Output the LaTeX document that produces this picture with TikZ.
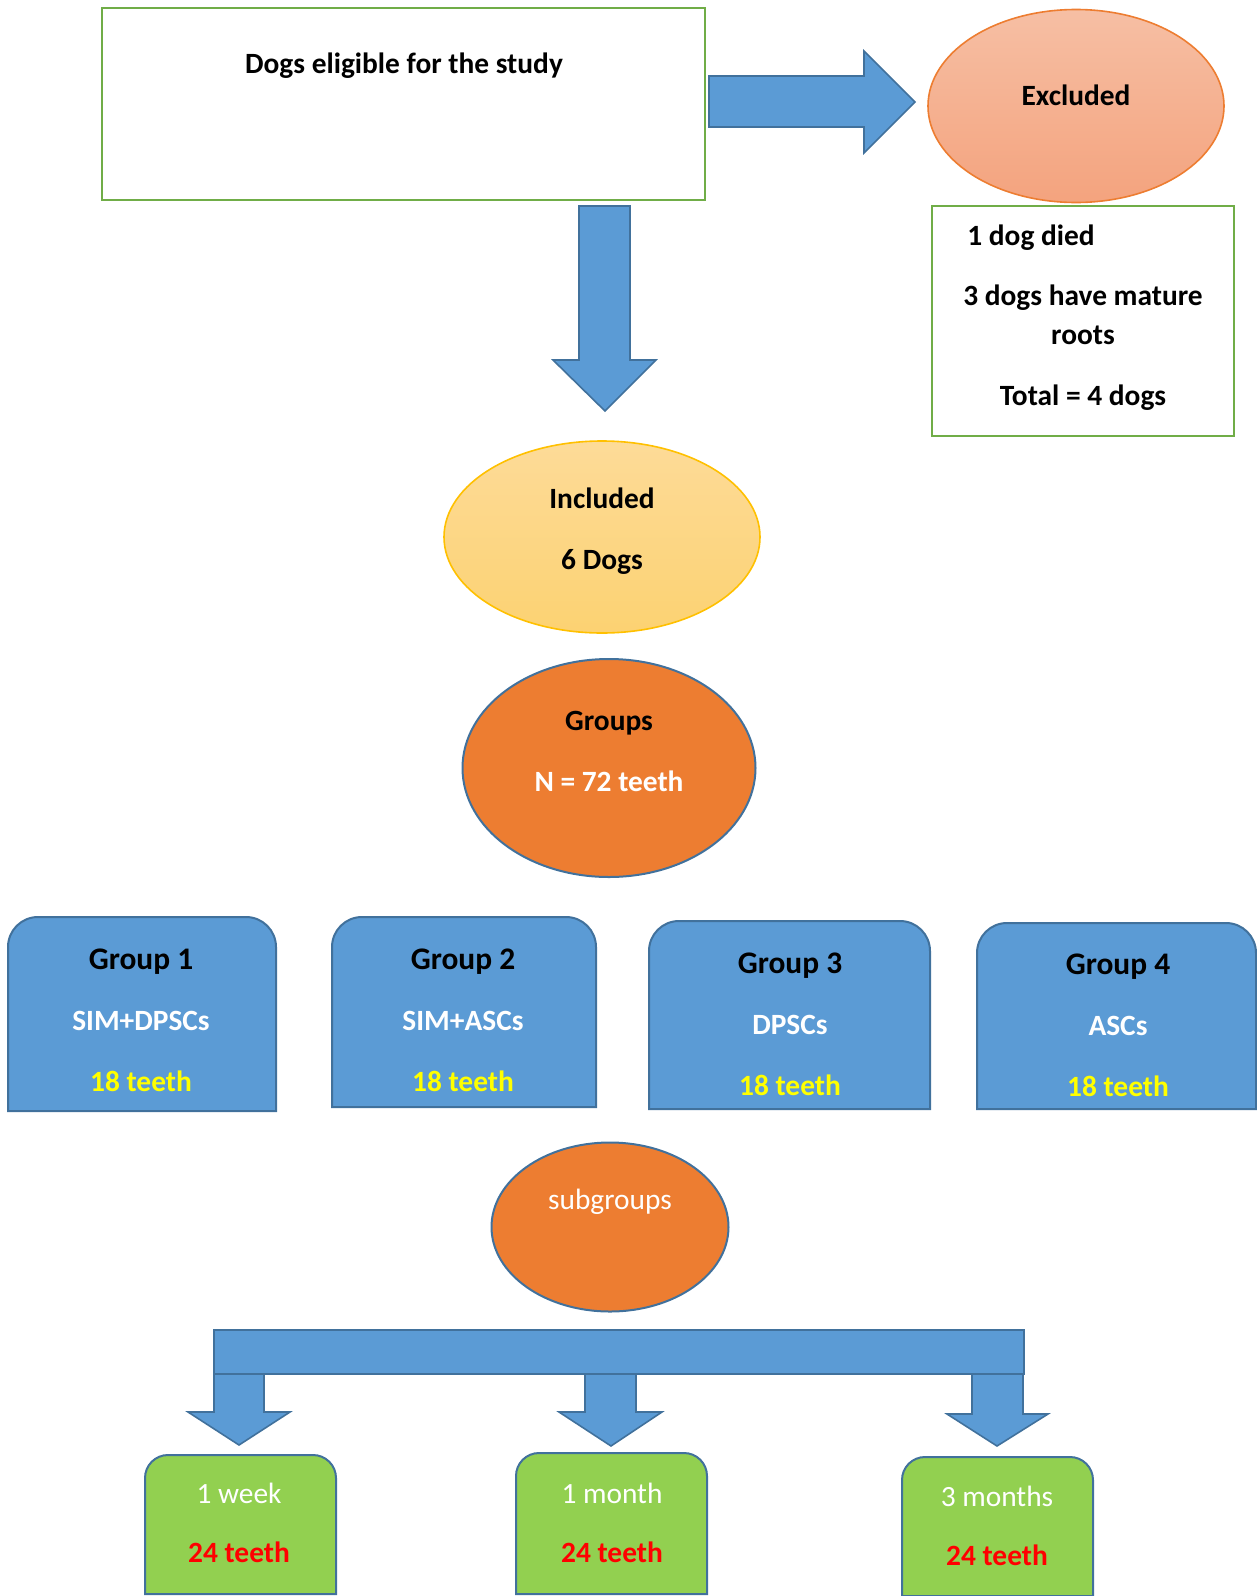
\documentclass[tikz,border=0pt]{standalone}
\usepackage{fontspec}
\setmainfont{Carlito}
\usepackage{tikz}

\definecolor{boxBlue}{HTML}{5B9BD5}
\definecolor{edgeBlue}{HTML}{41719C}
\definecolor{frameGreen}{HTML}{70AD47}
\definecolor{leafGreen}{HTML}{92D050}
\definecolor{deepOrange}{HTML}{ED7D31}
\definecolor{salmonTop}{HTML}{F6BFA4}
\definecolor{salmonBottom}{HTML}{F4A37E}
\definecolor{goldTop}{HTML}{FDDB98}
\definecolor{goldBottom}{HTML}{FCD272}
\definecolor{goldEdge}{HTML}{FFC000}
\definecolor{textYellow}{HTML}{FFFF00}
\definecolor{textRed}{HTML}{FF0000}

\begin{document}
\begin{tikzpicture}[x=0.5pt,y=-0.5pt,%%
  frameStyle/.style={draw=frameGreen,line width=1pt},%%
  blockArrow/.style={fill=boxBlue,draw=edgeBlue,line width=0.8pt,line join=miter},%%
  groupStyle/.style={fill=boxBlue,draw=edgeBlue,line width=1pt},%%
  leafStyle/.style={fill=leafGreen,draw=edgeBlue,line width=1pt},%%
  darkEllipse/.style={fill=deepOrange,draw=edgeBlue,line width=1pt},%%
  labelStyle/.style={inner sep=0pt,align=center,font=\fontsize{14.7}{19.5}\selectfont\bfseries}%%
]
%%
\useasboundingbox (0,0) rectangle (1257,1596);
%%
\pgfmathsetmacro{\groupRadius}{15}
\pgfmathsetmacro{\leafRadius}{11.5}
%%
%% The eligible dogs and the excluded ones.
\draw[frameStyle] (102,8) rectangle (705,200);
\draw[blockArrow] (709,76) -- (864,76) -- (864,51) -- (915,102) -- (864,153)
  -- (864,127) -- (709,127) -- cycle;
\draw[top color=salmonTop,bottom color=salmonBottom,draw=deepOrange,line width=0.8pt]
  (1076,106) ellipse [x radius=148,y radius=96.5];
\draw[frameStyle] (932,206) rectangle (1234,436);
%%
%% Down to the included dogs.
\draw[blockArrow] (579,206) -- (630,206) -- (630,360) -- (656,360) -- (605,411)
  -- (553,360) -- (579,360) -- cycle;
\draw[top color=goldTop,bottom color=goldBottom,draw=goldEdge,line width=0.8pt]
  (602,537) ellipse [x radius=158,y radius=96];
%%
%% The groups.
\draw[darkEllipse] (609,768) ellipse [x radius=146.5,y radius=109];
\draw[groupStyle] (8,1111) [rounded corners=\groupRadius pt] -- (8,917) -- (276,917)
  [sharp corners] -- (276,1111) -- cycle;
\draw[groupStyle] (332,1107) [rounded corners=\groupRadius pt] -- (332,917) -- (596,917)
  [sharp corners] -- (596,1107) -- cycle;
\draw[groupStyle] (649,1109) [rounded corners=\groupRadius pt] -- (649,921) -- (930,921)
  [sharp corners] -- (930,1109) -- cycle;
\draw[groupStyle] (977,1109) [rounded corners=\groupRadius pt] -- (977,923) -- (1256,923)
  [sharp corners] -- (1256,1109) -- cycle;
%%
%% The subgroups.
\draw[darkEllipse] (610,1227) ellipse [x radius=118.5,y radius=84.5];
\draw[blockArrow] (214,1330) rectangle (1024,1374);
\draw[blockArrow] (214,1374) -- (264,1374) -- (264,1412) -- (290,1412) -- (239,1445)
  -- (188,1412) -- (214,1412) -- cycle;
\draw[blockArrow] (585,1374) -- (636,1374) -- (636,1412) -- (662,1412) -- (611,1446)
  -- (559,1412) -- (585,1412) -- cycle;
\draw[blockArrow] (972,1374) -- (1023,1374) -- (1023,1414) -- (1048,1414) -- (997,1446)
  -- (947,1414) -- (972,1414) -- cycle;
\draw[leafStyle] (145,1594) [rounded corners=\leafRadius pt] -- (145,1455) -- (336,1455)
  [sharp corners] -- (336,1594) -- cycle;
\draw[leafStyle] (516,1594) [rounded corners=\leafRadius pt] -- (516,1453) -- (707,1453)
  [sharp corners] -- (707,1594) -- cycle;
\draw[leafStyle] (902,1596) [rounded corners=\leafRadius pt] -- (902,1457) -- (1093,1457)
  [sharp corners] -- (1093,1596) -- cycle;
%%
%% Labels.
\node[labelStyle] (eligibleText) at (404,66) {Dogs eligible for the study};
\node[labelStyle] (excludedText) at (1076,95) {Excluded};
\node[labelStyle,anchor=west] (diedText) at (967,238) {1 dog died};
\node[labelStyle] (reasonsText) at (1083,348) {3 dogs have mature\\roots\\[11pt]Total = 4 dogs};
\node[labelStyle] (includedText) at (602,531) {Included\\[11pt]6 Dogs};
\node[labelStyle] (groupsText) at (609,751) {Groups\\[11pt]\textcolor{white}{N = 72 teeth}};
%%
\node[labelStyle] (groupOneText) at (141,1020)
  {{\fontsize{15.7}{19.5}\selectfont Group 1}\\[11pt]\textcolor{white}{SIM+DPSCs}\\[11pt]\textcolor{textYellow}{18 teeth}};
\node[labelStyle] (groupTwoText) at (463,1020)
  {{\fontsize{15.7}{19.5}\selectfont Group 2}\\[11pt]\textcolor{white}{SIM+ASCs}\\[11pt]\textcolor{textYellow}{18 teeth}};
\node[labelStyle] (groupThreeText) at (790,1024)
  {{\fontsize{15.7}{19.5}\selectfont Group 3}\\[11pt]\textcolor{white}{DPSCs}\\[11pt]\textcolor{textYellow}{18 teeth}};
\node[labelStyle] (groupFourText) at (1118,1025)
  {{\fontsize{15.7}{19.5}\selectfont Group 4}\\[11pt]\textcolor{white}{ASCs}\\[11pt]\textcolor{textYellow}{18 teeth}};
%%
\node[labelStyle,font=\fontsize{14.7}{19.5}\selectfont,text=white] (subgroupsText) at (610,1202) {subgroups};
\node[labelStyle] (weekText) at (239,1523)
  {\textcolor{white}{\mdseries 1 week}\\[10pt]\textcolor{textRed}{24 teeth}};
\node[labelStyle] (monthText) at (612,1523)
  {\textcolor{white}{\mdseries 1 month}\\[10pt]\textcolor{textRed}{24 teeth}};
\node[labelStyle] (monthsText) at (997,1526)
  {\textcolor{white}{\mdseries 3 months}\\[10pt]\textcolor{textRed}{24 teeth}};
\end{tikzpicture}
\end{document}
